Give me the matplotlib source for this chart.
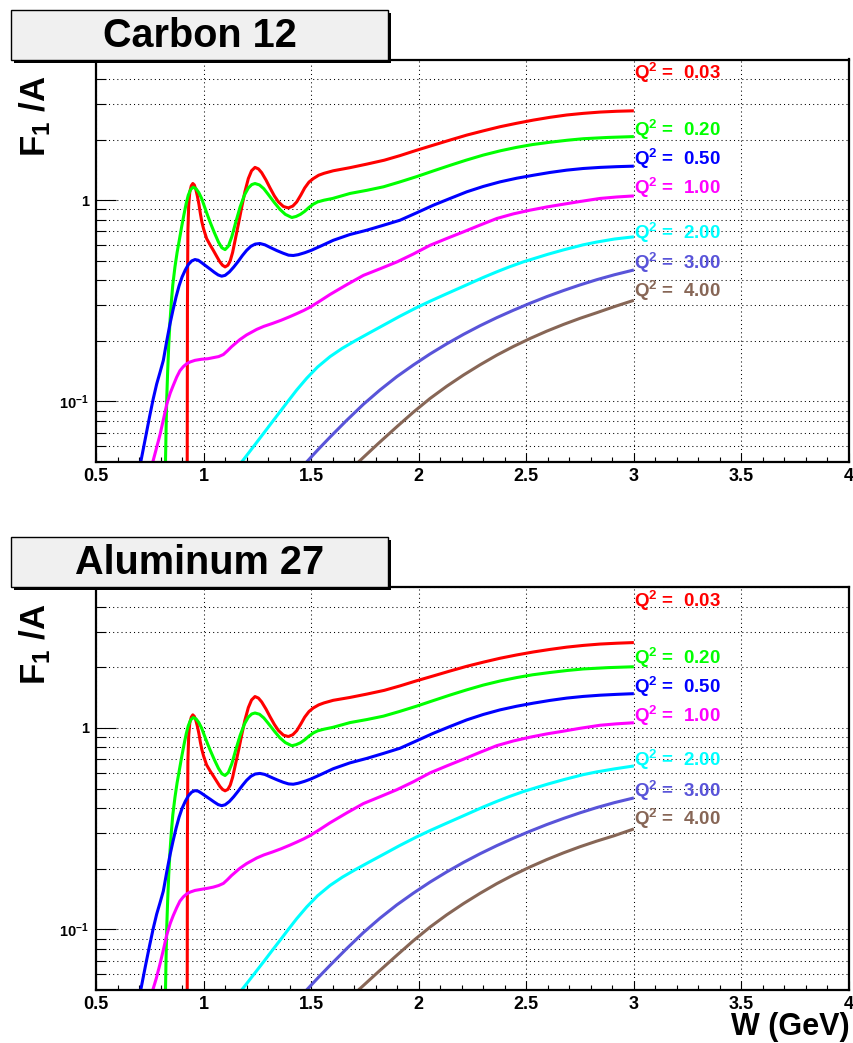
import numpy as np
import matplotlib
matplotlib.use("Agg")
import matplotlib.pyplot as plt
from matplotlib.patches import Rectangle
from matplotlib.ticker import FixedLocator, NullFormatter, LogLocator, MultipleLocator

plt.rcParams['font.family'] = ['Liberation Sans', 'DejaVu Sans']
plt.rcParams['font.weight'] = 'bold'
plt.rcParams['mathtext.fontset'] = 'custom'
plt.rcParams['mathtext.rm'] = 'Liberation Sans:bold'
plt.rcParams['mathtext.it'] = 'Liberation Sans:bold'
plt.rcParams['mathtext.bf'] = 'Liberation Sans:bold'

########################################################## data

q2_values = ['0.03', '0.20', '0.50', '1.00', '2.00', '3.00', '4.00']
q2_colors = ['#ff0000', '#00ff00', '#0000ff', '#ff00ff', '#00ffff', '#5954d9', '#876656']
# y position (F1/A units) of each Q2 label
label_y = [4.28, 2.23, 1.60, 1.15, 0.69, 0.486, 0.352]

# W grids (GeV), shared by both nuclei
W_003 = [0.924, 0.925, 0.927, 0.931, 0.936, 0.943, 0.950, 0.957, 0.964, 0.971, 0.978, 0.985, 0.992, 1.000,
         1.014, 1.030, 1.045, 1.060, 1.076, 1.088, 1.100, 1.113, 1.124, 1.135, 1.145, 1.155, 1.166, 1.177,
         1.192, 1.208, 1.223, 1.239, 1.255, 1.270, 1.290, 1.309, 1.329, 1.348, 1.371, 1.394, 1.415, 1.433,
         1.452, 1.470, 1.490, 1.510, 1.535, 1.560, 1.603, 1.680, 1.758, 1.840, 1.913, 1.990, 2.068, 2.146,
         2.223, 2.300, 2.378, 2.455, 2.533, 2.610, 2.688, 2.765, 2.843, 2.920, 3.000]
W_020 = [0.823, 0.826, 0.829, 0.833, 0.838, 0.844, 0.850, 0.857, 0.867, 0.877, 0.888, 0.898, 0.909, 0.919,
         0.929, 0.940, 0.952, 0.965, 0.978, 0.991, 1.004, 1.017, 1.030, 1.050, 1.069, 1.085, 1.100, 1.115,
         1.131, 1.150, 1.170, 1.190, 1.208, 1.224, 1.239, 1.260, 1.280, 1.300, 1.330, 1.355, 1.380, 1.410,
         1.430, 1.450, 1.470, 1.490, 1.510, 1.530, 1.560, 1.600, 1.681, 1.760, 1.836, 1.910, 1.991, 2.070,
         2.146, 2.220, 2.300, 2.380, 2.455, 2.530, 2.610, 2.690, 2.765, 2.880, 3.000]
W_050 = [0.708, 0.730, 0.750, 0.766, 0.782, 0.798, 0.813, 0.829, 0.844, 0.858, 0.872, 0.886, 0.900, 0.915,
         0.930, 0.945, 0.960, 0.975, 0.990, 1.010, 1.030, 1.050, 1.068, 1.084, 1.100, 1.120, 1.140, 1.160,
         1.180, 1.200, 1.220, 1.240, 1.262, 1.285, 1.310, 1.340, 1.370, 1.395, 1.417, 1.440, 1.470, 1.500,
         1.550, 1.603, 1.680, 1.758, 1.835, 1.913, 1.990, 2.068, 2.146, 2.223, 2.300, 2.378, 2.455, 2.533,
         2.610, 2.688, 2.765, 2.843, 2.920, 3.000]
W_100 = [0.764, 0.780, 0.797, 0.813, 0.829, 0.845, 0.859, 0.875, 0.890, 0.906, 0.922, 0.937, 0.960, 0.990,
         1.020, 1.045, 1.070, 1.092, 1.110, 1.130, 1.150, 1.169, 1.200, 1.247, 1.280, 1.320, 1.360, 1.402,
         1.433, 1.465, 1.495, 1.540, 1.588, 1.665, 1.743, 1.820, 1.898, 1.975, 2.053, 2.130, 2.208, 2.285,
         2.363, 2.440, 2.518, 2.595, 2.673, 2.750, 2.843, 2.920, 3.000]
W_200 = [1.177, 1.208, 1.239, 1.278, 1.320, 1.362, 1.394, 1.433, 1.480, 1.530, 1.588, 1.645, 1.704, 1.770,
         1.840, 1.910, 1.990, 2.053, 2.130, 2.208, 2.300, 2.363, 2.420, 2.485, 2.600, 2.673, 2.764, 2.828,
         2.910, 3.000]
W_300 = [1.479, 1.530, 1.588, 1.665, 1.743, 1.820, 1.898, 1.975, 2.053, 2.130, 2.208, 2.285, 2.363, 2.440,
         2.518, 2.595, 2.673, 2.750, 2.828, 2.910, 3.000]
W_400 = [1.720, 1.810, 1.898, 1.975, 2.053, 2.130, 2.208, 2.285, 2.363, 2.440, 2.518, 2.595, 2.673, 2.750,
         2.828, 2.910, 3.000]

# Carbon 12 : F1/A
C_F_003 = [0.050, 0.300, 0.700, 0.950, 1.100, 1.180, 1.210, 1.190, 1.130, 1.050, 0.960, 0.860, 0.780, 0.720,
           0.645, 0.600, 0.564, 0.528, 0.493, 0.475, 0.466, 0.475, 0.500, 0.550, 0.620, 0.700, 0.800, 0.920,
           1.100, 1.280, 1.400, 1.455, 1.430, 1.370, 1.260, 1.150, 1.050, 0.980, 0.930, 0.915, 0.935, 0.980,
           1.060, 1.150, 1.230, 1.280, 1.330, 1.360, 1.400, 1.450, 1.510, 1.580, 1.665, 1.770, 1.877, 1.990,
           2.105, 2.210, 2.317, 2.410, 2.500, 2.580, 2.650, 2.700, 2.740, 2.765, 2.780]
C_F_020 = [0.050, 0.075, 0.105, 0.140, 0.190, 0.250, 0.310, 0.380, 0.466, 0.550, 0.640, 0.737, 0.850, 0.960,
           1.060, 1.130, 1.160, 1.140, 1.090, 1.020, 0.930, 0.850, 0.780, 0.690, 0.620, 0.580, 0.568, 0.590,
           0.657, 0.780, 0.926, 1.060, 1.150, 1.195, 1.210, 1.190, 1.140, 1.070, 0.970, 0.900, 0.850, 0.820,
           0.830, 0.850, 0.880, 0.920, 0.955, 0.980, 1.000, 1.020, 1.080, 1.120, 1.165, 1.230, 1.310, 1.400,
           1.490, 1.580, 1.675, 1.760, 1.830, 1.890, 1.940, 1.985, 2.020, 2.050, 2.070]
C_F_050 = [0.050, 0.066, 0.085, 0.103, 0.122, 0.140, 0.160, 0.200, 0.243, 0.285, 0.330, 0.375, 0.415, 0.450,
           0.480, 0.499, 0.507, 0.503, 0.490, 0.472, 0.455, 0.438, 0.425, 0.419, 0.423, 0.440, 0.465, 0.495,
           0.530, 0.563, 0.590, 0.605, 0.609, 0.600, 0.582, 0.562, 0.545, 0.533, 0.531, 0.536, 0.548, 0.563,
           0.595, 0.632, 0.675, 0.709, 0.750, 0.795, 0.865, 0.944, 1.020, 1.100, 1.170, 1.233, 1.285, 1.330,
           1.373, 1.410, 1.437, 1.455, 1.467, 1.476]
C_F_100 = [0.050, 0.058, 0.068, 0.081, 0.097, 0.110, 0.120, 0.132, 0.142, 0.149, 0.154, 0.157, 0.160, 0.162,
           0.163, 0.165, 0.167, 0.171, 0.178, 0.187, 0.195, 0.203, 0.214, 0.228, 0.236, 0.244, 0.253, 0.264,
           0.273, 0.283, 0.294, 0.315, 0.340, 0.380, 0.423, 0.456, 0.493, 0.540, 0.597, 0.645, 0.696, 0.752,
           0.811, 0.855, 0.892, 0.925, 0.955, 0.985, 1.020, 1.037, 1.050]
C_F_200 = [0.050, 0.0552, 0.0610, 0.0692, 0.0793, 0.0908, 0.1007, 0.1140, 0.1306, 0.1483, 0.1670, 0.1837,
           0.2000, 0.2188, 0.2404, 0.2642, 0.2924, 0.3148, 0.3428, 0.3733, 0.4130, 0.4406, 0.4656, 0.4932,
           0.5383, 0.5662, 0.5998, 0.6194, 0.6412, 0.6577]
C_F_300 = [0.050, 0.0573, 0.0665, 0.0805, 0.0968, 0.1140, 0.1327, 0.1517, 0.1722, 0.1932, 0.2153, 0.2377,
           0.2608, 0.2838, 0.3076, 0.3316, 0.3556, 0.3793, 0.4027, 0.4260, 0.4500]
C_F_400 = [0.050, 0.0615, 0.0748, 0.0884, 0.1035, 0.1189, 0.1352, 0.1520, 0.1698, 0.1875, 0.2055, 0.2234,
           0.2413, 0.2588, 0.2760, 0.2960, 0.3180]

# Aluminum 27 : F1/A
Al_F_003 = [0.050, 0.300, 0.680, 0.920, 1.060, 1.130, 1.160, 1.140, 1.090, 1.020, 0.940, 0.850, 0.780, 0.725,
            0.655, 0.612, 0.578, 0.545, 0.512, 0.495, 0.487, 0.495, 0.520, 0.568, 0.635, 0.710, 0.805, 0.920,
            1.090, 1.260, 1.375, 1.430, 1.405, 1.345, 1.240, 1.135, 1.040, 0.970, 0.920, 0.905, 0.925, 0.968,
            1.045, 1.130, 1.205, 1.255, 1.300, 1.330, 1.370, 1.415, 1.470, 1.535, 1.615, 1.712, 1.810, 1.915,
            2.020, 2.118, 2.215, 2.300, 2.380, 2.450, 2.515, 2.565, 2.605, 2.630, 2.650]
Al_F_020 = [0.050, 0.075, 0.104, 0.138, 0.186, 0.244, 0.302, 0.370, 0.452, 0.534, 0.622, 0.715, 0.825, 0.930,
            1.025, 1.095, 1.125, 1.108, 1.062, 0.998, 0.915, 0.842, 0.778, 0.695, 0.630, 0.592, 0.580, 0.600,
            0.662, 0.780, 0.918, 1.045, 1.130, 1.172, 1.185, 1.168, 1.120, 1.055, 0.960, 0.892, 0.845, 0.815,
            0.825, 0.843, 0.872, 0.910, 0.943, 0.966, 0.985, 1.005, 1.062, 1.100, 1.143, 1.205, 1.282, 1.368,
            1.455, 1.540, 1.630, 1.710, 1.776, 1.834, 1.882, 1.926, 1.960, 1.990, 2.010]
Al_F_050 = [0.050, 0.066, 0.084, 0.101, 0.119, 0.136, 0.155, 0.193, 0.234, 0.274, 0.317, 0.360, 0.398, 0.432,
            0.461, 0.480, 0.488, 0.485, 0.474, 0.458, 0.443, 0.428, 0.416, 0.411, 0.415, 0.431, 0.455, 0.484,
            0.517, 0.549, 0.575, 0.590, 0.594, 0.587, 0.571, 0.553, 0.537, 0.527, 0.525, 0.531, 0.543, 0.558,
            0.590, 0.627, 0.670, 0.705, 0.746, 0.792, 0.862, 0.940, 1.016, 1.095, 1.165, 1.228, 1.280, 1.326,
            1.368, 1.405, 1.432, 1.452, 1.466, 1.478]
Al_F_100 = [0.050, 0.057, 0.067, 0.079, 0.094, 0.107, 0.117, 0.128, 0.138, 0.145, 0.150, 0.153, 0.156, 0.158,
            0.160, 0.162, 0.165, 0.169, 0.176, 0.185, 0.193, 0.201, 0.212, 0.226, 0.234, 0.242, 0.251, 0.262,
            0.271, 0.281, 0.292, 0.313, 0.338, 0.378, 0.421, 0.455, 0.493, 0.540, 0.598, 0.647, 0.699, 0.756,
            0.816, 0.861, 0.899, 0.933, 0.963, 0.995, 1.030, 1.047, 1.060]
Al_F_200 = [0.050, 0.0551, 0.0608, 0.0688, 0.0788, 0.0901, 0.0999, 0.1130, 0.1294, 0.1468, 0.1652, 0.1815,
            0.1975, 0.2158, 0.2368, 0.2600, 0.2875, 0.3093, 0.3365, 0.3662, 0.4048, 0.4315, 0.4556, 0.4823,
            0.5260, 0.5530, 0.5856, 0.6046, 0.6258, 0.6470]
Al_F_300 = [0.050, 0.0572, 0.0663, 0.0802, 0.0964, 0.1136, 0.1322, 0.1512, 0.1717, 0.1927, 0.2148, 0.2372,
            0.2603, 0.2833, 0.3071, 0.3311, 0.3551, 0.3788, 0.4022, 0.4255, 0.4490]
Al_F_400 = [0.050, 0.0612, 0.0743, 0.0878, 0.1027, 0.1180, 0.1342, 0.1509, 0.1686, 0.1862, 0.2041, 0.2219,
            0.2397, 0.2571, 0.2742, 0.2918, 0.3150]

W_grids = [W_003, W_020, W_050, W_100, W_200, W_300, W_400]
carbon = [C_F_003, C_F_020, C_F_050, C_F_100, C_F_200, C_F_300, C_F_400]
aluminum = [Al_F_003, Al_F_020, Al_F_050, Al_F_100, Al_F_200, Al_F_300, Al_F_400]

########################################################## plotting

W_PX, H_PX = 854, 1043
fig = plt.figure(figsize=(W_PX / 100, H_PX / 100), dpi=100)


def px_box(x0, y0, x1, y1):
    # pixel box (top-left origin) -> figure fraction rect
    return [x0 / W_PX, 1 - y1 / H_PX, (x1 - x0) / W_PX, (y1 - y0) / H_PX]


def draw_panel(rect, curves, title, title_box, ylab_y):
    ax = fig.add_axes(rect)
    ax.set_yscale('log')
    ax.set_xlim(0.5, 4.0)
    ax.set_ylim(0.05, 5.0)

    for w, f, c in zip(W_grids, curves, q2_colors):
        ax.plot(w, f, color=c, lw=2.2, solid_joinstyle='round', solid_capstyle='butt')

    for q, c, yl in zip(q2_values, q2_colors, label_y):
        ax.text(3.0, yl, r'$\mathrm{Q}^{2}$ =  ' + q, color=c, fontsize=13.5,
                fontweight='bold', ha='left', va='center')

    # axes / ticks
    ax.xaxis.set_major_locator(MultipleLocator(0.5))
    ax.xaxis.set_minor_locator(MultipleLocator(0.1))
    ax.xaxis.set_major_formatter(plt.FuncFormatter(lambda v, p: ('%g' % v)))
    ax.yaxis.set_major_locator(FixedLocator([0.1, 1.0]))
    ax.yaxis.set_major_formatter(plt.FuncFormatter(
        lambda v, p: '1' if v > 0.5 else r'$\mathrm{10}^{\mathrm{-1}}$'))
    ax.yaxis.set_minor_locator(LogLocator(base=10, subs=np.arange(2, 10)))
    ax.yaxis.set_minor_formatter(NullFormatter())

    ax.tick_params(axis='x', which='major', direction='in', length=6.5, width=0.8,
                   labelsize=13, pad=4, top=False)
    ax.tick_params(axis='x', which='minor', direction='in', length=3.6, width=0.8, top=False)
    ax.tick_params(axis='y', which='major', direction='in', length=14.4, width=0.8,
                   labelsize=10.5, pad=5, right=False)
    ax.tick_params(axis='y', which='minor', direction='in', length=7.2, width=0.8, right=False)
    for lab in ax.get_xticklabels() + ax.get_yticklabels():
        lab.set_fontweight('bold')

    ax.grid(True, which='major', axis='x', color='k', ls=(0, (1, 3)), lw=0.75)
    ax.grid(True, which='both', axis='y', color='k', ls=(0, (1, 3)), lw=0.75)
    for sp in ax.spines.values():
        sp.set_linewidth(1.6)

    # title box with drop shadow
    x0, y0, x1, y1 = title_box
    sh = px_box(x0 + 3, y0 + 3, x1 + 3, y1 + 3)
    fig.patches.append(Rectangle((sh[0], sh[1]), sh[2], sh[3], transform=fig.transFigure,
                                 facecolor='k', edgecolor='k', lw=0, zorder=5))
    bx = px_box(x0, y0, x1, y1)
    fig.patches.append(Rectangle((bx[0], bx[1]), bx[2], bx[3], transform=fig.transFigure,
                                 facecolor='#f0f0f0', edgecolor='k', lw=1.0, zorder=6))
    fig.text((x0 + x1) / 2 / W_PX, 1 - ((y0 + y1) / 2 + 1) / H_PX, title, fontsize=28.5,
             fontweight='bold', ha='center', va='center', zorder=7)

    fig.text(35 / W_PX, 1 - ylab_y / H_PX, r'$\mathrm{F}_{1}$ /A', rotation=90, fontsize=25,
             fontweight='bold', ha='center', va='center')
    return ax


top_ax = draw_panel(px_box(96, 59.5, 849, 462), carbon, 'Carbon 12', (11, 10, 388, 60), 116)
bot_ax = draw_panel(px_box(96, 587, 849, 990), aluminum, 'Aluminum 27', (11, 537, 388, 587), 644)

fig.text(850 / W_PX, 1 - 1027 / H_PX, 'W (GeV)', fontsize=22, fontweight='bold', ha='right', va='center')

fig.savefig('out.png', dpi=100)
